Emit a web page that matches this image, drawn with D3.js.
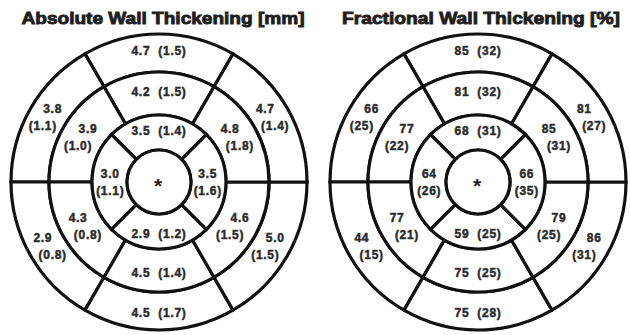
<!DOCTYPE html>
<html>
<head>
<meta charset="utf-8">
<script src="https://cdn.jsdelivr.net/npm/d3@7"></script>
<style>
  html, body { margin: 0; padding: 0; background: #fff; }
  svg { display: block; }
  .seg { fill: #fff; stroke: #111; stroke-width: 3.2; }
  .lbl { font-family: "Liberation Sans", Arial, sans-serif; font-weight: bold; font-size: 12px; fill: #2a2a2a; stroke: #2a2a2a; stroke-width: 0.45px; letter-spacing: 0.7px; }
  .ttl { font-family: "Liberation Sans", Arial, sans-serif; font-weight: bold; font-size: 17px; fill: #1e1e1e; stroke: #1e1e1e; stroke-width: 0.9px; }
  .apex { font-family: "Liberation Sans", Arial, sans-serif; font-weight: bold; font-size: 21px; fill: #222; }
</style>
</head>
<body>
<svg id="chart" width="630" height="335"></svg>
<script>
// Chart titles
const titles = ["Absolute Wall Thickening [mm]", "Fractional Wall Thickening [%]"];

// Ring names from outside in, and number of segments in each ring
const rings = ["basal", "mid", "apical"];
const segmentCounts = { basal: 6, mid: 6, apical: 4 };

// Segment order within each ring: anterior (top) then counter-clockwise
// basal / mid: anterior, anteroseptal, inferoseptal, inferior, inferolateral, anterolateral
// apical: anterior, septal, inferior, lateral

// Absolute wall thickening, mean [mm]
const absBasalMean  = ["4.7", "3.8", "2.9", "4.5", "5.0", "4.7"];
const absBasalSD    = ["1.5", "1.1", "0.8", "1.7", "1.5", "1.4"];
const absMidMean    = ["4.2", "3.9", "4.3", "4.5", "4.6", "4.8"];
const absMidSD      = ["1.5", "1.0", "0.8", "1.4", "1.5", "1.8"];
const absApicalMean = ["3.5", "3.0", "2.9", "3.5"];
const absApicalSD   = ["1.4", "1.1", "1.2", "1.6"];

// Fractional wall thickening, mean [%]
const fracBasalMean  = ["85", "66", "44", "75", "86", "81"];
const fracBasalSD    = ["32", "25", "15", "28", "31", "27"];
const fracMidMean    = ["81", "77", "77", "75", "79", "85"];
const fracMidSD      = ["32", "22", "21", "25", "25", "31"];
const fracApicalMean = ["68", "64", "59", "66"];
const fracApicalSD   = ["31", "26", "25", "35"];

const apexLabel = "*";

const panels = [
  { title: titles[0], mean: { basal: absBasalMean, mid: absMidMean, apical: absApicalMean },
    sd: { basal: absBasalSD, mid: absMidSD, apical: absApicalSD } },
  { title: titles[1], mean: { basal: fracBasalMean, mid: fracMidMean, apical: fracApicalMean },
    sd: { basal: fracBasalSD, mid: fracMidSD, apical: fracApicalSD } }
];

const svg = d3.select("#chart");

// Panel placement
const panelX = d3.scalePoint().domain([0, 1]).range([159, 478]);
const centerY = 182;
const titleX = [163, 481];
const titleWidth = [283, 278];

// Ring radii: [inner, outer]
const ringRadius = d3.scaleOrdinal()
  .domain(["apex", "apical", "mid", "basal"])
  .range([[0, 32], [32, 67], [67, 110], [110, 148]]);

const arc = d3.arc();
const lineGap = 17;

panels.forEach((p, pi) => {
  const cx = panelX(pi);
  const g = svg.append("g").attr("transform", `translate(${cx},${centerY})`);

  svg.append("text").attr("class", "ttl")
    .attr("x", titleX[pi]).attr("y", 24)
    .attr("text-anchor", "middle")
    .attr("textLength", titleWidth[pi])
    .attr("lengthAdjust", "spacingAndGlyphs")
    .text(p.title);

  rings.forEach(ring => {
    const n = segmentCounts[ring];
    const step = 2 * Math.PI / n;
    // segment k centered at -k*step (d3 angle: 0 = up, clockwise positive)
    const angle = d3.scaleLinear().domain([0, n]).range([0, -2 * Math.PI]);
    const [r0, r1] = ringRadius(ring);
    const rm = (r0 + r1) / 2;
    const segs = d3.range(n).map(k => ({
      k,
      mean: p.mean[ring][k],
      sd: p.sd[ring][k],
      center: angle(k),
      startAngle: angle(k) - step / 2,
      endAngle: angle(k) + step / 2,
      innerRadius: r0,
      outerRadius: r1
    }));

    g.selectAll(null).data(segs).enter().append("path")
      .attr("class", "seg")
      .attr("d", arc);

    segs.forEach(s => {
      const sx = Math.sin(s.center), sy = -Math.cos(s.center);
      const vertical = Math.abs(sx) < 1e-6; // top or bottom segment
      if (vertical) {
        const yOff = sy < 0 ? -2 : 2;
        g.append("text").attr("class", "lbl")
          .attr("x", 0).attr("y", rm * sy + yOff)
          .attr("dy", "0.35em")
          .attr("text-anchor", "middle")
          .attr("xml:space", "preserve")
          .text(`${s.mean}  (${s.sd})`);
      } else {
        const yc = rm * sy;
        const lines = [[s.mean, yc - lineGap / 2], [`(${s.sd})`, yc + lineGap / 2]];
        lines.forEach(([t, y]) => {
          const x = Math.sign(sx) * Math.sqrt(Math.max(rm * rm - y * y, 0));
          g.append("text").attr("class", "lbl")
            .attr("x", x).attr("y", y)
            .attr("dy", "0.35em")
            .attr("text-anchor", "middle")
            .text(t);
        });
      }
    });
  });

  // Apex
  const [a0, a1] = ringRadius("apex");
  g.append("path").attr("class", "seg")
    .attr("d", arc({ innerRadius: a0, outerRadius: a1, startAngle: 0, endAngle: 2 * Math.PI }));
  g.append("text").attr("class", "apex")
    .attr("x", -1).attr("y", 11)
    .attr("text-anchor", "middle")
    .text(apexLabel);
});
</script>
</body>
</html>
